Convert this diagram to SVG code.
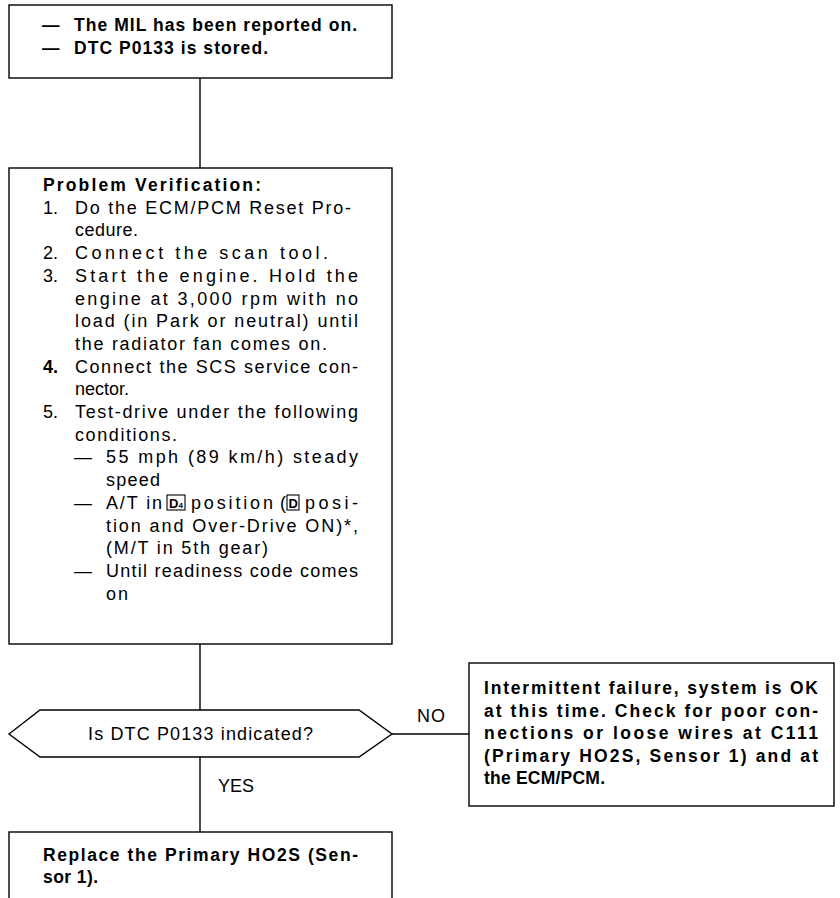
<svg xmlns="http://www.w3.org/2000/svg" width="840" height="898" viewBox="0 0 840 898">
<style>
.box{fill:#fff;stroke:#000;stroke-width:1.4}
.ln{stroke:#000;stroke-width:1.4;fill:none}
text{font-family:"Liberation Sans",Arial,sans-serif;font-size:18px;fill:#000}
.b{font-weight:bold;font-size:17.5px}
.kb{fill:none;stroke:#000;stroke-width:1.1}
</style>
<rect width="840" height="898" fill="#fff"/>
<g id="connectors">
<line class="ln" x1="200" y1="78" x2="200" y2="168"/>
<line class="ln" x1="200" y1="644" x2="200" y2="710"/>
<line class="ln" x1="200" y1="757" x2="200" y2="832"/>
<line class="ln" x1="392" y1="734" x2="469" y2="734"/>
<text x="417" y="722" textLength="28">NO</text>
<text x="218" y="792" textLength="36">YES</text>
</g>
<g id="start">
<rect class="box" x="9" y="5" width="383" height="73"/>
<text class="b" x="42" y="31" textLength="17">—</text>
<text class="b" x="74" y="31" textLength="283">The MIL has been reported on.</text>
<text class="b" x="42" y="54" textLength="17">—</text>
<text class="b" x="74" y="54" textLength="194">DTC P0133 is stored.</text>
</g>
<g id="verification">
<rect class="box" x="9" y="168" width="383" height="476"/>
<text class="b" x="43" y="191" textLength="218">Problem Verification:</text>
<text x="43" y="213.7">1.</text>
<text x="75" y="213.7" textLength="276">Do the ECM/PCM Reset Pro-</text>
<text x="75" y="236.4" textLength="63">cedure.</text>
<text x="43" y="259.1">2.</text>
<text x="75" y="259.1" textLength="253">Connect the scan tool.</text>
<text x="43" y="281.8">3.</text>
<text x="75" y="281.8" textLength="283">Start the engine. Hold the</text>
<text x="75" y="304.5" textLength="283">engine at 3,000 rpm with no</text>
<text x="75" y="327.2" textLength="283">load (in Park or neutral) until</text>
<text x="75" y="349.9" textLength="252">the radiator fan comes on.</text>
<text class="b" x="43" y="372.6" style="font-size:18px">4.</text>
<text x="75" y="372.6" textLength="283">Connect the SCS service con-</text>
<text x="75" y="395.3">nector.</text>
<text x="43" y="418">5.</text>
<text x="75" y="418" textLength="283">Test-drive under the following</text>
<text x="75" y="440.7" textLength="102">conditions.</text>
<text x="74" y="463.4" textLength="15">—</text>
<text x="106" y="463.4" textLength="252">55 mph (89 km/h) steady</text>
<text x="106" y="486.1" textLength="54">speed</text>
<text x="74" y="508.8" textLength="15">—</text>
<text x="106" y="508.8" textLength="56">A/T in</text>
<rect class="kb" x="167" y="495" width="18" height="15"/>
<text class="b" x="169" y="508" style="font-size:13px">D</text>
<text class="b" x="178.5" y="508" style="font-size:8px">4</text>
<text x="191" y="508.8" textLength="82">position</text>
<text x="280" y="508.8">(</text>
<rect class="kb" x="287" y="495" width="12" height="15"/>
<text class="b" x="288.5" y="508" style="font-size:13px">D</text>
<text x="305" y="508.8" textLength="53">posi-</text>
<text x="106" y="531.5" textLength="252">tion and Over-Drive ON)*,</text>
<text x="106" y="554.2" textLength="162">(M/T in 5th gear)</text>
<text x="74" y="576.9" textLength="15">—</text>
<text x="106" y="576.9" textLength="252">Until readiness code comes</text>
<text x="106" y="599.6" textLength="22">on</text>
</g>
<g id="decision">
<polygon class="box" points="9,734 40,710 359,710 392,734 359,757 40,757"/>
<text x="88" y="740" textLength="225">Is DTC P0133 indicated?</text>
</g>
<g id="intermittent">
<rect class="box" x="469" y="663" width="365" height="143"/>
<text class="b" x="484" y="694" textLength="334">Intermittent failure, system is OK</text>
<text class="b" x="484" y="716.5" textLength="334">at this time. Check for poor con-</text>
<text class="b" x="484" y="739" textLength="334">nections or loose wires at C111</text>
<text class="b" x="484" y="761.5" textLength="334">(Primary HO2S, Sensor 1) and at</text>
<text class="b" x="484" y="784" textLength="121">the ECM/PCM.</text>
</g>
<g id="replace">
<rect class="box" x="9" y="832" width="383" height="80"/>
<text class="b" x="43" y="861" textLength="315">Replace the Primary HO2S (Sen-</text>
<text class="b" x="43" y="883" textLength="55">sor 1).</text>
</g>
</svg>
